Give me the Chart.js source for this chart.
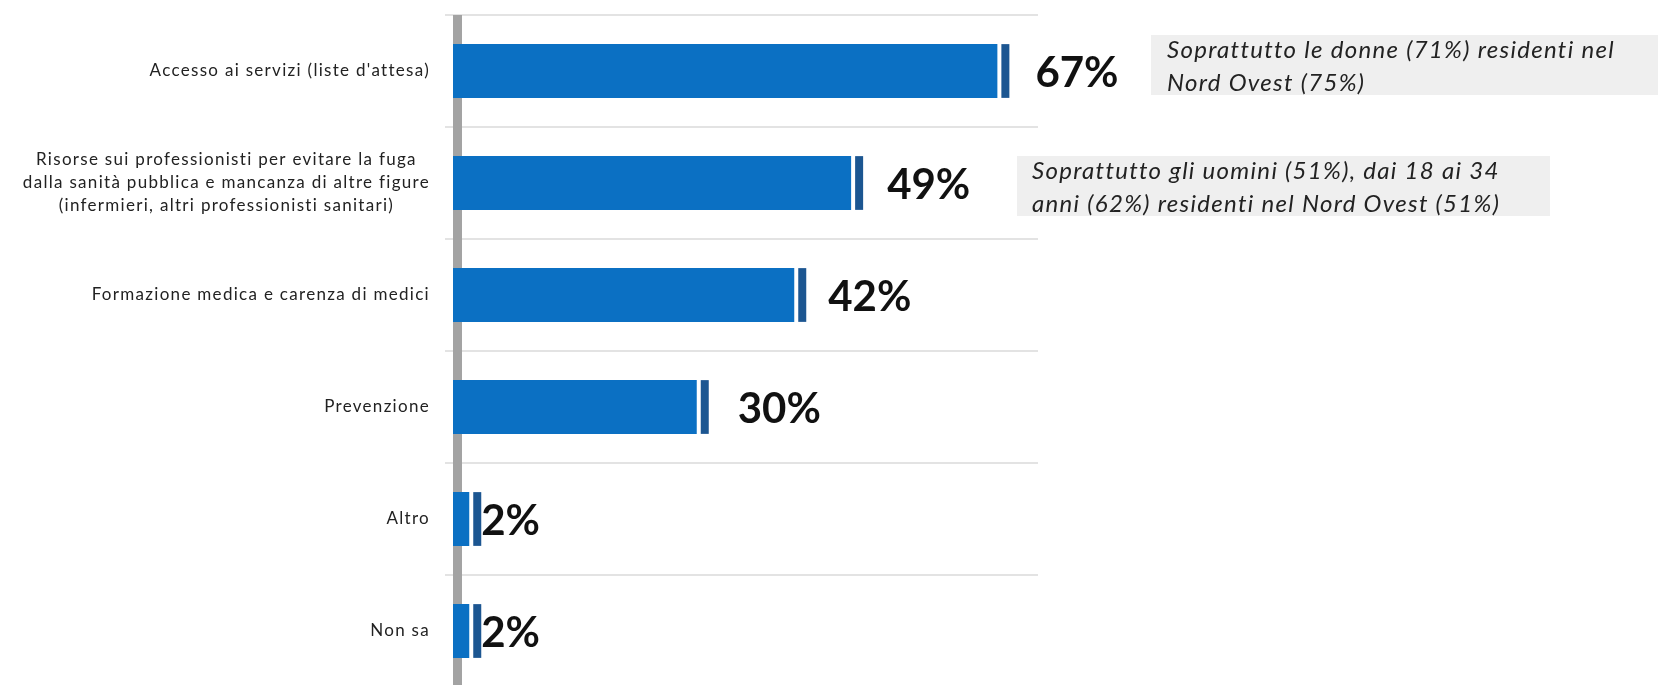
<!DOCTYPE html>
<html>
<head>
<meta charset="utf-8">
<script src="https://cdn.jsdelivr.net/npm/chart.js@4"></script>
<style>
  html, body { margin: 0; padding: 0; background: #fff; overflow: hidden; }
  #wrap { width: 1667px; height: 700px; }
</style>
</head>
<body>
<div id="wrap"><canvas id="chart-priorita" width="1667" height="700"></canvas></div>
<script>
const categories = [
  "Accesso ai servizi (liste d'attesa)",
  ["Risorse sui professionisti per evitare la fuga",
   "dalla sanità pubblica e mancanza di altre figure",
   "(infermieri, altri professionisti sanitari)"],
  "Formazione medica e carenza di medici",
  "Prevenzione",
  "Altro",
  "Non sa"
];
const values = [67, 49, 42, 30, 2, 2];
const notes = [
  ["Soprattutto le donne (71%) residenti nel", "Nord Ovest (75%)"],
  ["Soprattutto gli uomini (51%), dai 18 ai 34", "anni (62%) residenti nel Nord Ovest (51%)"],
  null, null, null, null
];

// label gaps after the bar end, and note boxes (left, width, top offset from bar centre, height, text x)
const labelGap = [26, 24, 22, 29, 0, 0];
const noteBox = [
  { x: 1151, w: 507, dy: -36, h: 60, tx: 1167 },
  { x: 1017, w: 533, dy: -27, h: 60, tx: 1032 }
];

const decor = {
  id: 'decor',
  beforeDatasetsDraw(chart) {
    const { ctx, chartArea } = chart;
    ctx.save();
    ctx.fillStyle = '#a3a3a3';
    ctx.fillRect(chartArea.left, chartArea.top, 9, chartArea.bottom - chartArea.top);
    ctx.restore();
  },
  afterDatasetsDraw(chart) {
    const { ctx } = chart;
    const meta = chart.getDatasetMeta(0);
    const yScale = chart.scales.y;
    ctx.save();

    meta.data.forEach((bar, i) => {
      const top = bar.y - bar.height / 2;
      // dark end cap
      ctx.fillStyle = '#1c5691';
      ctx.fillRect(bar.x + 4, top, 8, bar.height);

      // value label
      ctx.letterSpacing = '0px';
      ctx.fillStyle = '#111';
      ctx.font = 'bold 42px Lato';
      ctx.textAlign = 'left';
      ctx.textBaseline = 'middle';
      ctx.fillText(values[i] + '%', bar.x + 12 + labelGap[i], bar.y + 2);

      // note box
      if (notes[i]) {
        const b = noteBox[i];
        ctx.fillStyle = '#efefef';
        ctx.fillRect(b.x, bar.y + b.dy, b.w, b.h);
        ctx.fillStyle = '#222';
        ctx.font = 'italic 24px Lato';
        ctx.letterSpacing = '1.3px';
        notes[i].forEach((line, k) => {
          ctx.fillText(line, b.tx, bar.y + b.dy + 15 + k * 33);
        });
      }
    });

    // category labels
    ctx.fillStyle = '#222';
    ctx.font = '17px Lato';
    ctx.letterSpacing = '1.3px';
    ctx.textBaseline = 'middle';
    ctx.textAlign = 'center';
    categories.forEach((lab, i) => {
      const lines = Array.isArray(lab) ? lab : [lab];
      const maxW = Math.max(...lines.map(l => ctx.measureText(l).width));
      const cy = yScale.getPixelForTick(i);
      const lh = 23;
      lines.forEach((l, k) => {
        ctx.fillText(l, 430 - maxW / 2, cy + (k - (lines.length - 1) / 2) * lh);
      });
    });
    ctx.restore();
  }
};

new Chart(document.getElementById('chart-priorita'), {
  type: 'bar',
  data: {
    labels: categories,
    datasets: [{
      data: values,
      backgroundColor: '#0b70c3',
      borderWidth: 0,
      barPercentage: 0.48,
      categoryPercentage: 1
    }]
  },
  options: {
    indexAxis: 'y',
    responsive: false,
    animation: false,
    layout: { padding: { top: 15, right: 629, bottom: 13, left: 0 } },
    plugins: { legend: { display: false }, tooltip: { enabled: false } },
    scales: {
      x: { display: false, min: 0, max: 72 },
      y: {
        ticks: { display: false },
        border: { display: false },
        grid: { color: '#e3e3e3', lineWidth: 2, tickLength: 8 },
        afterFit(scale) { scale.width = 453; }
      }
    }
  },
  plugins: [decor]
});
</script>
</body>
</html>
